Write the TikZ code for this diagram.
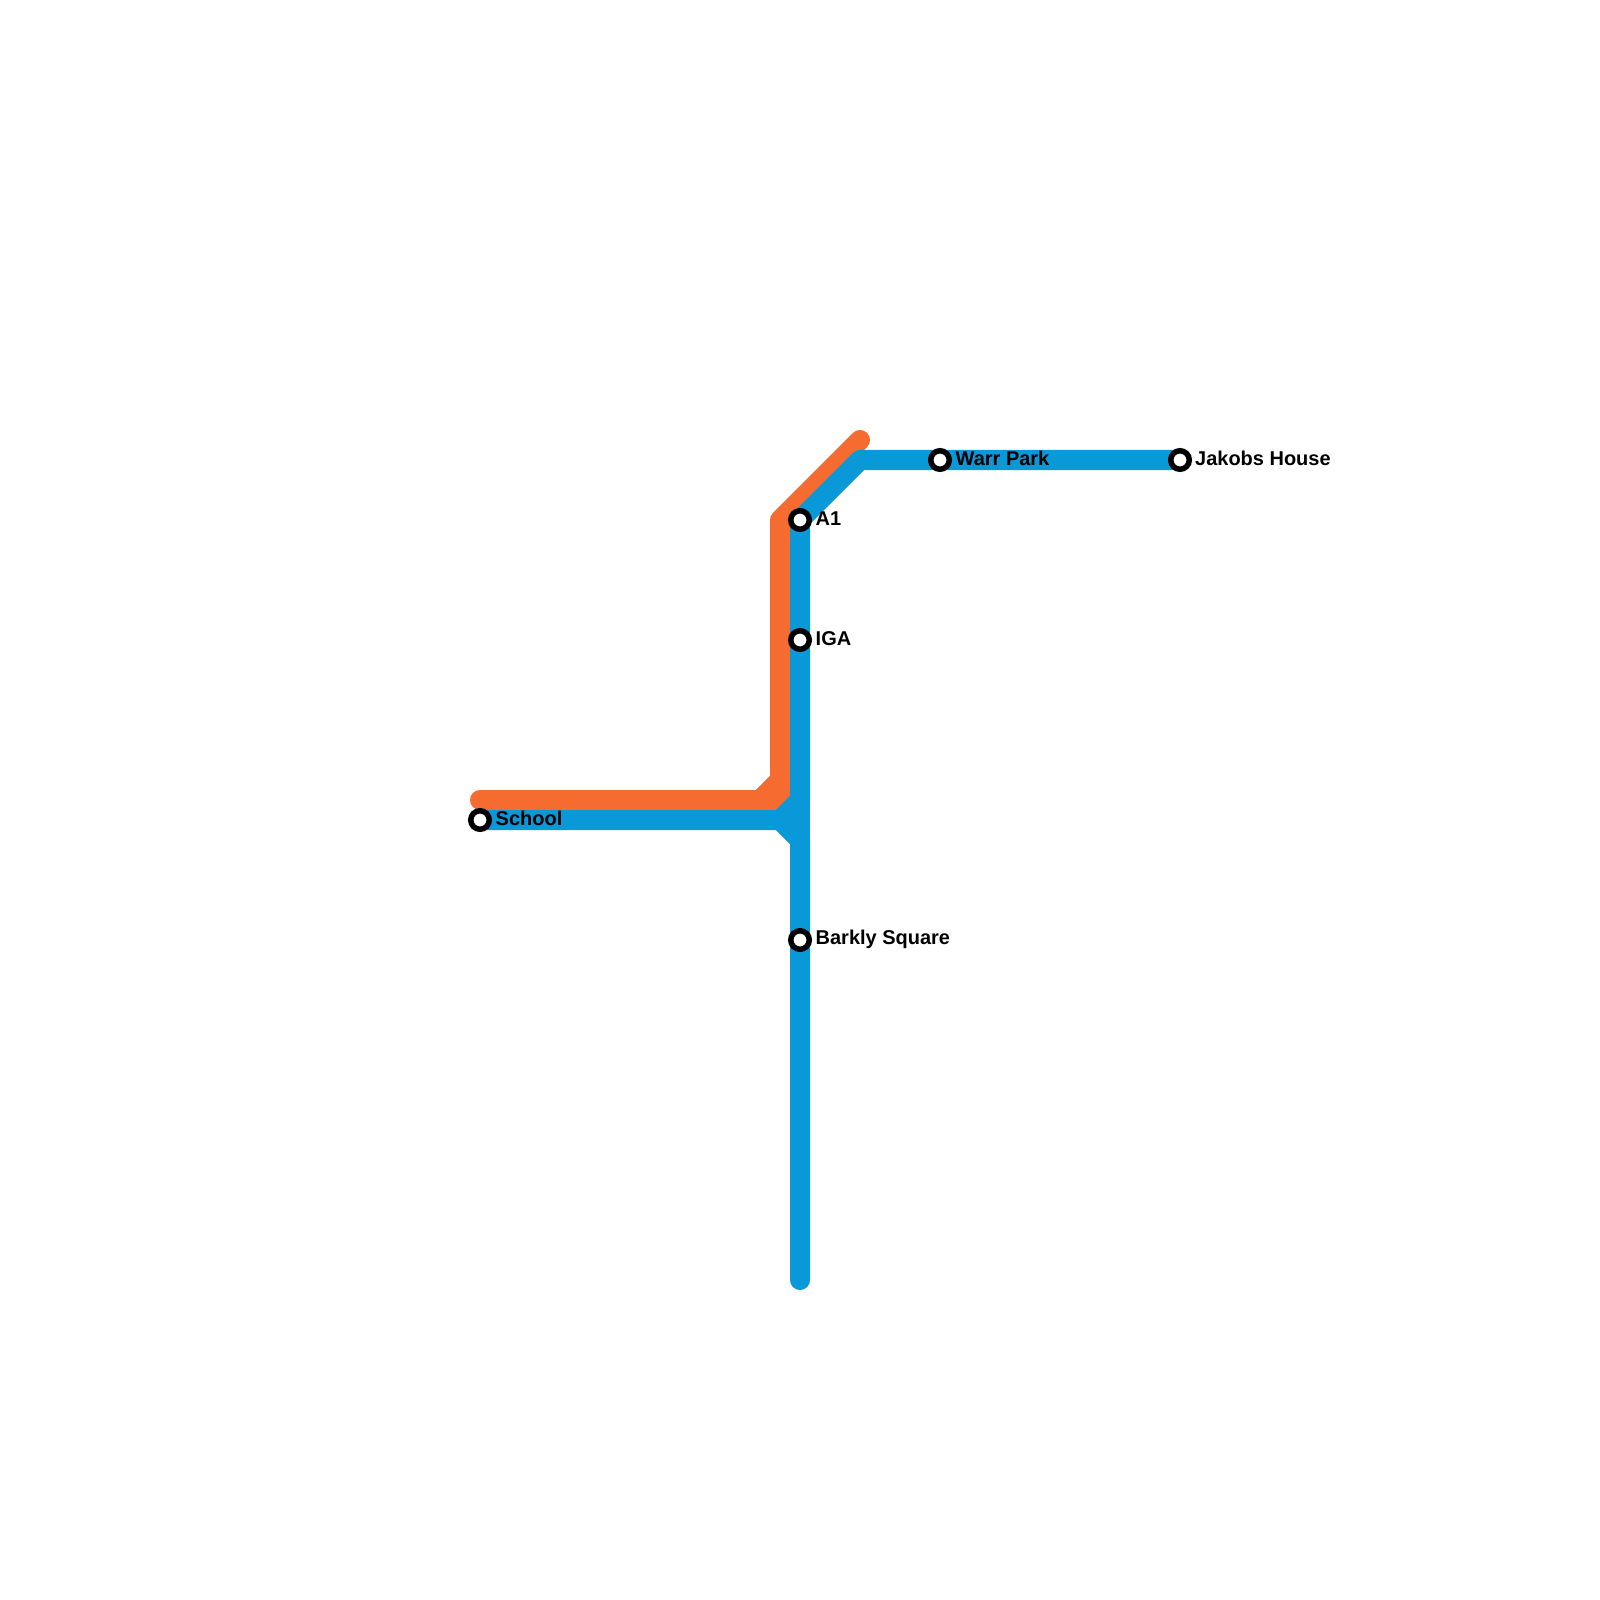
\documentclass[tikz,border=0pt]{standalone}
\usepackage{fontspec}
\setmainfont{Liberation Sans}
\usetikzlibrary{backgrounds}
\definecolor{lineB}{RGB}{9,152,216}
\definecolor{lineO}{RGB}{246,108,48}
\tikzset{
  routeB/.style={lineB,line width=2mm,line cap=round,line join=round},
  routeO/.style={lineO,line width=2mm,line cap=round,line join=round},
  stop/.style={circle,draw=black,fill=white,line width=0.55mm,minimum size=1.85mm,inner sep=0pt},
  stoplabel/.style={right,inner sep=0pt,font=\fontsize{5.68}{7}\selectfont\bfseries}
}
\begin{document}
\begin{tikzpicture}[x=0.01cm,y=-0.01cm]
\useasboundingbox (0,0) rectangle (1600,1600);
% bends of the two lines
\coordinate (oStart) at (480,800);
\coordinate (oLow) at (760,800);
\coordinate (oCorner) at (780,800);
\coordinate (oKnee) at (780,780);
\coordinate (oTop) at (780,520);
\coordinate (oEnd) at (860,440);
\coordinate (bFork) at (780,820);
\coordinate (bUp) at (800,800);
\coordinate (bDown) at (800,840);
\coordinate (bBend) at (860,460);
\coordinate (bEnd) at (800,1280);
% stations
\node[stop] (school) at (480,820) {};
\node[stop] (aone) at (800,520) {};
\node[stop] (iga) at (800,640) {};
\node[stop] (barkly) at (800,940) {};
\node[stop] (warr) at (940,460) {};
\node[stop] (jakobs) at (1180,460) {};
% orange goes under the blue, both under the stations
\begin{scope}[on background layer]
\draw[routeO] (oStart)--(oLow)--(oKnee)--(oTop)--(oEnd);
\draw[routeO] (oLow)--(oCorner)--(oKnee);
\draw[routeB] (school.center)--(bFork)--(bUp)--(aone.center)--(bBend)--(jakobs.center);
\draw[routeB] (bFork)--(bDown)--(bEnd);
\draw[routeB] (bUp)--(bDown);
\end{scope}
\node[stoplabel] (schoolT) at (495,818) {School};
\node[stoplabel] (aoneT) at (815,519) {A1};
\node[stoplabel] (igaT) at (815,639) {IGA};
\node[stoplabel] (barklyT) at (815,939) {Barkly Square};
\node[stoplabel] (warrT) at (955,458) {Warr Park};
\node[stoplabel] (jakobsT) at (1194.5,458) {Jakobs House};
\end{tikzpicture}
\end{document}
